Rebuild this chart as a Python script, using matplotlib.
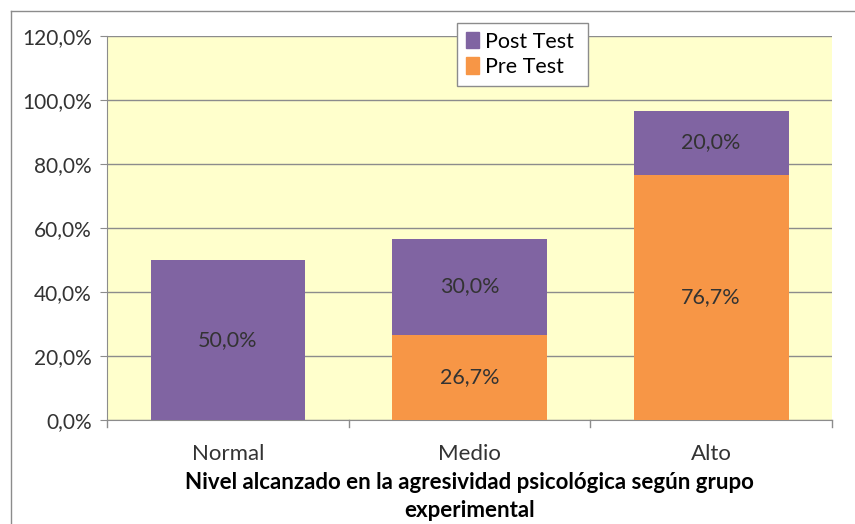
import matplotlib.pyplot as plt
import numpy as np
from matplotlib.lines import Line2D

# datos
categorias = ['Normal', 'Medio', 'Alto']
pre_test = [0.0, 26.7, 76.7]
post_test = [50.0, 30.0, 20.0]
y_ticks = [0, 20, 40, 60, 80, 100, 120]

morado = '#8064A2'
naranja = '#F79646'

plt.rcParams['font.family'] = ['Lato', 'DejaVu Sans']

fig = plt.figure(figsize=(8.55, 5.24), dpi=100)
ax = fig.add_axes([107 / 855, 1 - 420 / 524, 725 / 855, 384 / 524])
ax.set_facecolor('#FFFFCC')

x = np.arange(len(categorias))
ax.bar(x, pre_test, width=0.64, color=naranja, label='Pre Test', zorder=3)
ax.bar(x, post_test, width=0.64, bottom=pre_test, color=morado, label='Post Test', zorder=3)

# etiquetas dentro de las barras
for i in range(len(categorias)):
    if pre_test[i] > 0:
        ax.text(x[i], pre_test[i] / 2, f'{pre_test[i]:.1f}%'.replace('.', ','),
                ha='center', va='center', fontsize=15.5, color='#333333', zorder=4)
    ax.text(x[i], pre_test[i] + post_test[i] / 2, f'{post_test[i]:.1f}%'.replace('.', ','),
            ha='center', va='center', fontsize=15.5, color='#333333', zorder=4)

ax.set_xlim(-0.5, 2.5)
ax.set_ylim(0, 120)
ax.set_yticks(y_ticks)
ax.set_yticklabels([f'{v:.1f}%'.replace('.', ',') for v in y_ticks], fontsize=15, color='#333333')
ax.yaxis.grid(True, color='#8C8C8C', linewidth=1, zorder=0)

ax.set_xticks(x)
ax.set_xticklabels(categorias, fontsize=16, color='#333333')
ax.tick_params(axis='x', length=0, pad=17)
ax.tick_params(axis='y', length=5, color='#8C8C8C', pad=6)
# marcas entre categorias
for b in [-0.5, 0.5, 1.5, 2.5]:
    ax.plot([b, b], [0, -2.2], color='#8C8C8C', lw=1, clip_on=False)

for s in ['top', 'right']:
    ax.spines[s].set_visible(False)
ax.spines['left'].set_color('#8C8C8C')
ax.spines['bottom'].set_color('#8C8C8C')

ax.set_xlabel('Nivel alcanzado en la agresividad psicológica según grupo\nexperimental',
              fontsize=16, fontweight='bold', color='black', labelpad=6, linespacing=1.4)

handles = [plt.Rectangle((0, 0), 1, 1, color=morado), plt.Rectangle((0, 0), 1, 1, color=naranja)]
leg = fig.legend(handles, ['Post Test ', 'Pre Test'], loc='upper left',
                 bbox_to_anchor=(457 / 855, 1 - 23 / 524), fontsize=15.5, frameon=True,
                 fancybox=False, edgecolor='#8C8C8C', handlelength=0.6, handleheight=0.8,
                 handletextpad=0.3, borderpad=0.4, labelspacing=0.25, borderaxespad=0)
leg.get_frame().set_facecolor('white')
leg.get_frame().set_alpha(1)

# marco exterior
fig.add_artist(Line2D([11 / 855, 11 / 855], [0, 1 - 11 / 524], color='#8C8C8C', lw=1))
fig.add_artist(Line2D([11 / 855, 1], [1 - 11 / 524, 1 - 11 / 524], color='#8C8C8C', lw=1))

fig.savefig('out.png', dpi=100)
